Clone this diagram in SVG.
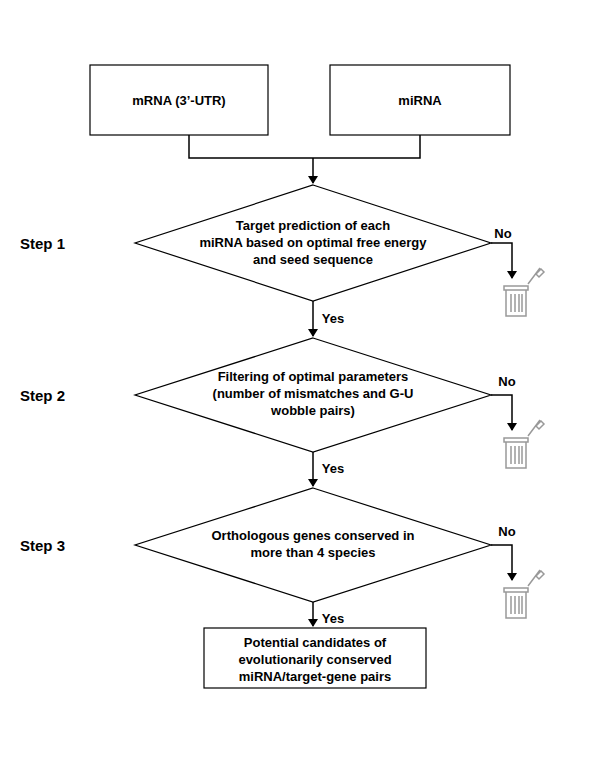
<svg xmlns="http://www.w3.org/2000/svg" width="600" height="771" viewBox="0 0 600 771">
<defs><marker id="a" markerWidth="8" markerHeight="10" refX="7" refY="5" orient="auto" markerUnits="userSpaceOnUse"><path d="M0,0L8,5L0,10z" fill="#000"/></marker>
<g id="trash" fill="none" stroke="#999" stroke-width="1.5"><rect x="0" y="0" width="20" height="28"/><rect x="-2" y="-2" width="24" height="4" fill="#fff"/><path d="M5,6V24M9,6V24M13,6V24M16,6V24"/><path d="M22,-4L34,-20M30,-14l5,-5 3,3-5,5z"/></g></defs>
<style>text{font-family:"Liberation Sans",Arial,sans-serif;font-weight:bold;font-size:13px;text-anchor:middle}.s{font-size:15px;text-anchor:start}.n{fill:#fff;stroke:#000;stroke-width:1.2}.c{fill:none;stroke:#000;stroke-width:1.5}</style>
<rect width="600" height="771" fill="#fff"/>
<g id="connectors">
<path class="c" d="M189,135V158H420V135M313,158V183" marker-end="url(#a)"/>
<path class="c" d="M491,243H512V278" marker-end="url(#a)"/>
<path class="c" d="M313,301V336" marker-end="url(#a)"/>
<path class="c" d="M491,395H512V430" marker-end="url(#a)"/>
<path class="c" d="M313,452V486" marker-end="url(#a)"/>
<path class="c" d="M491,545H512V580" marker-end="url(#a)"/>
<path class="c" d="M313,602V626" marker-end="url(#a)"/>
<text x="503" y="238">No</text><text x="507" y="386">No</text><text x="507" y="536">No</text>
<text x="333" y="323">Yes</text><text x="333" y="473">Yes</text><text x="333" y="623">Yes</text>
</g>
<use href="#trash" x="506" y="288"/><use href="#trash" x="506" y="440"/><use href="#trash" x="506" y="590"/>
<text class="s" x="20" y="249">Step 1</text><text class="s" x="20" y="401">Step 2</text><text class="s" x="20" y="551">Step 3</text>
<g id="mrna"><rect class="n" x="90" y="65" width="178" height="70"/><text x="179" y="105">mRNA (3’-UTR)</text></g>
<g id="mirna"><rect class="n" x="330" y="65" width="180" height="70"/><text x="420" y="105">miRNA</text></g>
<g id="d1"><path class="n" d="M313,185L491,243L313,301L135,243z"/><text x="313" y="230">Target prediction of each</text><text x="313" y="247">miRNA based on optimal free energy</text><text x="313" y="264">and seed sequence</text></g>
<g id="d2"><path class="n" d="M313,338L491,395L313,452L135,395z"/><text x="313" y="381">Filtering of optimal parameters</text><text x="313" y="398">(number of mismatches and G-U</text><text x="313" y="415">wobble pairs)</text></g>
<g id="d3"><path class="n" d="M313,488L491,545L313,602L135,545z"/><text x="313" y="540">Orthologous genes conserved in</text><text x="313" y="557">more than 4 species</text></g>
<g id="final"><rect class="n" x="204" y="628" width="222" height="60"/><text x="315" y="647">Potential candidates of</text><text x="315" y="664">evolutionarily conserved</text><text x="315" y="681">miRNA/target-gene pairs</text></g>
</svg>
